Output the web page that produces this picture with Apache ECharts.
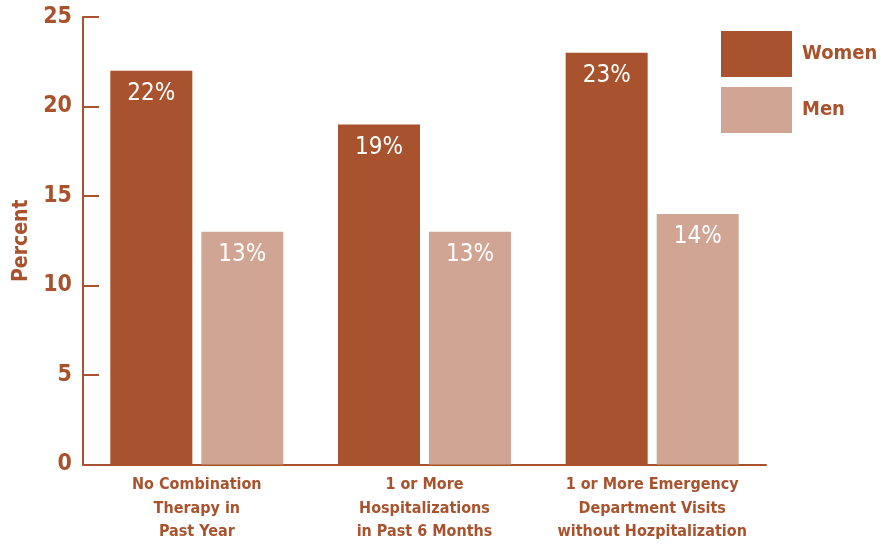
<!DOCTYPE html>
<html>
<head>
<meta charset="utf-8">
<script src="https://cdn.jsdelivr.net/npm/echarts@6/dist/echarts.min.js"></script>
<style>
  html, body { margin: 0; padding: 0; background: #fff; }
  #chart { width: 881px; height: 544px; }
</style>
</head>
<body>
<div id="chart"></div>
<script>
// Categories and values (percent)
const categories = [
  'No Combination\nTherapy in\nPast Year',
  '1 or More\nHospitalizations\nin Past 6 Months',
  '1 or More Emergency\nDepartment Visits\nwithout Hozpitalization'
];
const women = [22, 19, 23];
const men = [13, 13, 14];
const yTicks = [0, 5, 10, 15, 20, 25];

const rust = '#a8532d';
const blush = '#d1a594';
const font = '"Liberation Sans Narrow", "DejaVu Sans Condensed", sans-serif';

const chart = echarts.init(document.getElementById('chart'));
chart.setOption({
  animation: false,
  textStyle: { fontFamily: font },
  grid: { left: 83, right: 115, top: 17, height: 451 },
  legend: {
    orient: 'vertical',
    left: 721,
    top: 31,
    padding: 0,
    itemWidth: 71,
    itemHeight: 46,
    itemGap: 10,
    icon: 'rect',
    textStyle: { color: rust, fontSize: 20, fontWeight: 'bold', fontFamily: font, padding: [8, 0, 0, 5] },
    data: ['Women', 'Men']
  },
  xAxis: {
    type: 'category',
    data: categories,
    axisLine: { lineStyle: { color: rust, width: 2 } },
    axisTick: { inside: true, length: 10, lineStyle: { color: rust, width: 2 } },
    axisLabel: {
      color: rust, fontSize: 16, fontWeight: 'bold', fontFamily: font,
      lineHeight: 23.5, margin: 9, interval: 0
    }
  },
  yAxis: {
    type: 'value',
    min: yTicks[0],
    max: yTicks[yTicks.length - 1],
    interval: 5,
    name: 'Percent',
    nameLocation: 'middle',
    nameGap: 50,
    nameTextStyle: { color: rust, fontSize: 21, fontWeight: 'bold', fontFamily: font },
    splitLine: { show: false },
    axisLine: { show: true, lineStyle: { color: rust, width: 2 } },
    axisTick: { show: true, inside: true, length: 16, lineStyle: { color: rust, width: 2 } },
    axisLabel: { color: rust, fontSize: 23, fontWeight: 'bold', fontFamily: font, margin: 11 }
  },
  series: [
    {
      name: 'Women', type: 'bar', data: women,
      barWidth: 82, barGap: '11%',
      itemStyle: { color: rust },
      label: {
        show: true, position: 'insideTop', distance: 11,
        formatter: p => p.value + '%',
        color: '#fff', fontSize: 24, fontFamily: font
      }
    },
    {
      name: 'Men', type: 'bar', data: men,
      barWidth: 82,
      itemStyle: { color: blush },
      label: {
        show: true, position: 'insideTop', distance: 11,
        formatter: p => p.value + '%',
        color: '#fff', fontSize: 24, fontFamily: font
      }
    }
  ]
});
</script>
</body>
</html>
